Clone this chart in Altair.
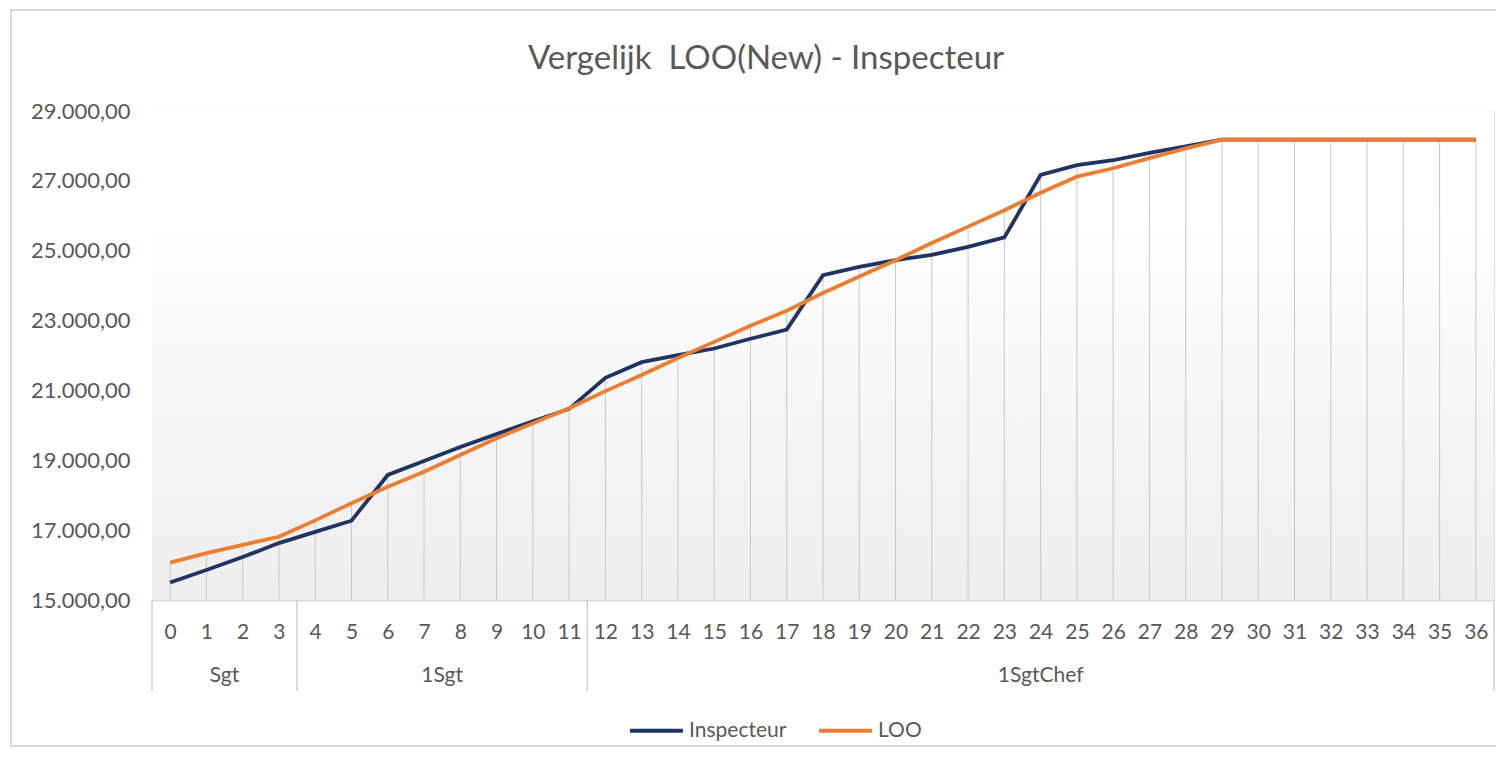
import altair as alt
import pandas as pd

# ---- data ----
years = list(range(37))
inspecteur = [15500, 15860, 16230, 16630, 16950, 17270, 18580, 18980, 19380, 19750,
              20120, 20470, 21360, 21810, 22010, 22200, 22480, 22740, 24300, 24540,
              24730, 24880, 25110, 25380, 27170, 27450, 27590, 27800, 27990, 28180,
              28180, 28180, 28180, 28180, 28180, 28180, 28180]
loo = [16070, 16340, 16580, 16810, 17280, 17770, 18240, 18670, 19150, 19630,
       20060, 20490, 20980, 21440, 21930, 22390, 22850, 23280, 23790, 24260,
       24730, 25220, 25690, 26160, 26660, 27120, 27360, 27650, 27930, 28180,
       28180, 28180, 28180, 28180, 28180, 28180, 28180]
group_names = ["Sgt", "1Sgt", "1SgtChef"]
group_first = [0, 4, 12]
group_last = [3, 11, 36]
y_ticks = [15000, 17000, 19000, 21000, 23000, 25000, 27000, 29000]
series = ["Inspecteur", "LOO"]
series_colors = ["#1F3462", "#ED7D31"]
title_text = "Vergelijk\u00a0 LOO(New) - Inspecteur"

W, H = 1342, 489
FONT = "Lato"
GREY = "#595959"

df = pd.DataFrame({"Jaar": years, "Inspecteur": inspecteur, "LOO": loo})
df["Top"] = df[["Inspecteur", "LOO"]].max(axis=1)
df["Bodem"] = 15000
long = df.melt(id_vars=["Jaar"], value_vars=series, var_name="Reeks", value_name="Waarde")

grp = pd.DataFrame({
    "name": group_names,
    "mid": [(a + b) / 2 for a, b in zip(group_first, group_last)],
})
seps = pd.DataFrame({"pos": [group_first[0] - 0.5] + [b + 0.5 for b in group_last]})

xscale = alt.Scale(domain=[-0.5, 36.5], nice=False, zero=False)
yscale = alt.Scale(domain=[15000, 29000], nice=False, zero=False)

label_expr = ("replace(replace(replace(format(datum.value, ',.2f'), '.', '#'), ',', '.'), '#', ',')")

x_axis = alt.Axis(values=years, format="d", grid=False, ticks=False,
                  domain=True, domainColor="#D9D9D9", domainWidth=1.5,
                  labelFontSize=21, labelColor=GREY, labelFont=FONT,
                  labelPadding=21, labelFlush=False, title=None)
y_axis = alt.Axis(values=y_ticks, labelExpr=label_expr, grid=True,
                  gridColor="#D9D9D9", gridWidth=1.5, domain=False, ticks=False,
                  labelFontSize=22, labelColor=GREY, labelFont=FONT,
                  labelPadding=22, title=None)

# background gradient of the plot area
bg = alt.Chart(pd.DataFrame({"a": [0]})).mark_rect(
    color=alt.Gradient(
        gradient="linear",
        stops=[alt.GradientStop(color="#FFFFFF", offset=0),
               alt.GradientStop(color="#FFFFFF", offset=0.2),
               alt.GradientStop(color="#EEEEEE", offset=1)],
        x1=0, x2=0, y1=0, y2=1,
    )
).encode(x=alt.value(0), x2=alt.value(W), y=alt.value(0), y2=alt.value(H))

# outer frame
frame = alt.Chart(pd.DataFrame({"a": [0]})).mark_rect(
    filled=False, stroke="#D9D9D9", strokeWidth=2
).encode(x=alt.value(-141), x2=alt.value(W + 8), y=alt.value(-101), y2=alt.value(H + 146))

title = alt.Chart(pd.DataFrame({"t": [title_text]})).mark_text(
    fontSize=33, font=FONT, color=GREY, align="center", baseline="middle"
).encode(x=alt.value(614), y=alt.value(-52), text="t:N")

drop = alt.Chart(df).mark_rule(color="#C8C8C8", strokeWidth=1).encode(
    x=alt.X("Jaar:Q", scale=xscale, axis=x_axis),
    y=alt.Y("Top:Q", scale=yscale, axis=y_axis),
    y2="Bodem:Q",
)

lines = alt.Chart(long).mark_line(strokeWidth=3.8).encode(
    x=alt.X("Jaar:Q", scale=xscale, axis=x_axis),
    y=alt.Y("Waarde:Q", scale=yscale, axis=y_axis),
    color=alt.Color("Reeks:N",
                    scale=alt.Scale(domain=series, range=series_colors),
                    legend=alt.Legend(orient="none", legendX=476, legendY=591,
                                      direction="horizontal", title=None,
                                      symbolType="stroke", symbolSize=2800,
                                      symbolStrokeWidth=4, labelFontSize=21,
                                      labelFont=FONT, labelColor=GREY,
                                      labelOffset=4, columnPadding=24)),
    order=alt.Order("Jaar:Q"),
)

sep_rules = alt.Chart(seps).mark_rule(color="#D0D0D0", strokeWidth=1.5).encode(
    x=alt.X("pos:Q", scale=xscale, axis=x_axis),
    y=alt.value(H),
    y2=alt.value(H + 91),
)

grp_text = alt.Chart(grp).mark_text(fontSize=21, color=GREY, font=FONT).encode(
    x=alt.X("mid:Q", scale=xscale, axis=x_axis),
    y=alt.value(H + 76),
    text="name:N",
)

chart = alt.layer(bg, frame, title, drop, lines, sep_rules, grp_text).properties(
    width=W, height=H,
    autosize=alt.AutoSizeParams(type="none"),
    padding={"left": 144, "top": 103, "right": 2, "bottom": 150},
).configure_view(stroke=None).configure(background="white")

chart.save("out.html", embed_options={"renderer": "svg", "actions": False})
